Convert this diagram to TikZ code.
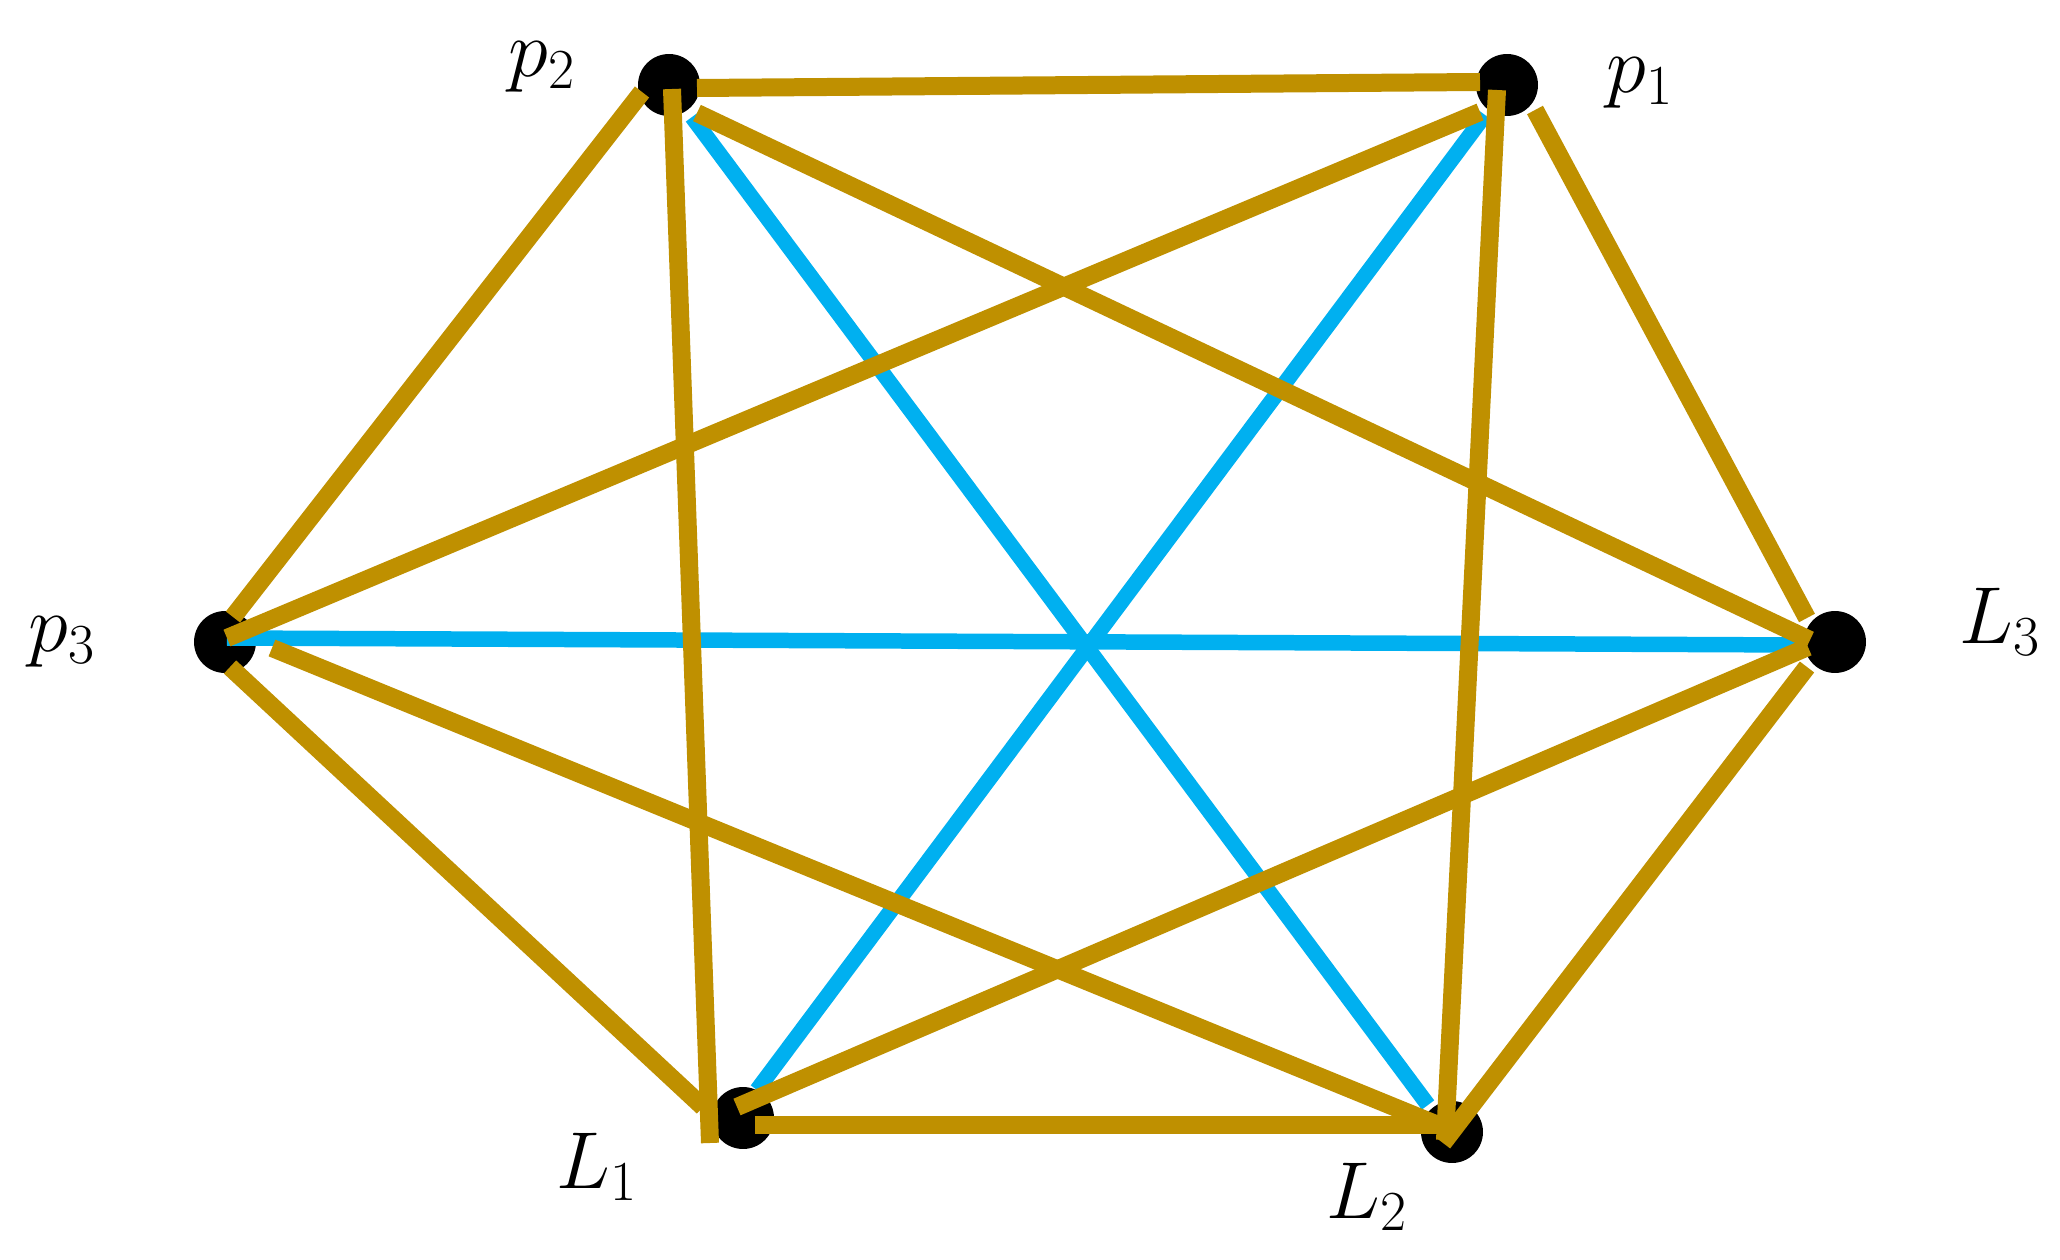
\documentclass[tikz,border=0pt]{standalone}
\usepackage{fix-cm}
\usetikzlibrary{calc}
\definecolor{goldline}{HTML}{BF9000}
\definecolor{blueline}{HTML}{00B0F0}
\tikzset{
  vertex/.style={circle,fill=black,inner sep=0pt,minimum size=1.24cm},
  goldedge/.style={draw=goldline,line width=0.36cm},
  blueedge/.style={draw=blueline,line width=0.31cm},
  lbl/.style={inner sep=0pt,font=\fontsize{46}{52}\selectfont}
}
\begin{document}
\begin{tikzpicture}[x=0.02cm,y=-0.02cm]
\useasboundingbox (0,0) rectangle (2060,1260);
% vertices
\node[vertex] (p2) at (669,85) {};
\node[vertex] (p1) at (1507,85) {};
\node[vertex] (p3) at (225,642) {};
\node[vertex] (L3) at (1835,642) {};
\node[vertex] (L1) at (743,1118) {};
\node[vertex] (L2) at (1452,1132) {};
% labels
\node[lbl] (tp2) at (542,67) {$p_2$};
\node[lbl] (tp1) at (1640,83) {$p_1$};
\node[lbl] (tp3) at (62,642) {$p_3$};
\node[lbl] (tL3) at (2000,622) {$L_3$};
\node[lbl] (tL1) at (597,1167) {$L_1$};
\node[lbl] (tL2) at (1367,1197) {$L_2$};
% blue edges (matching)
\draw[blueedge] ($(p2)+(23,32)$) -- ($(L2)+(-24,-27)$);
\draw[blueedge] ($(p1)+(-22,30)$) -- ($(L1)+(14,-28)$);
\draw[blueedge] ($(p3)+(2,-4)$) -- ($(L3)+(-35,3)$);
% gold edges
\draw[goldedge] ($(p2)+(28,3)$) -- ($(p1)+(-27,-3)$);
\draw[goldedge] ($(p2)+(-27,7)$) -- ($(p3)+(8,-25)$);
\draw[goldedge] ($(p2)+(3,4)$) -- ($(L1)+(-33,25)$);
\draw[goldedge] ($(p2)+(28,28)$) -- ($(L3)+(-25,-2)$);
\draw[goldedge] ($(p1)+(-27,27)$) -- ($(p3)+(2,-4)$);
\draw[goldedge] ($(p1)+(-10,5)$) -- ($(L2)+(-7,8)$);
\draw[goldedge] ($(p1)+(28,25)$) -- ($(L3)+(-28,-24)$);
\draw[goldedge] ($(p3)+(5,25)$) -- ($(L1)+(-40,-11)$);
\draw[goldedge] ($(p3)+(47,6)$) -- ($(L2)+(-9,-5)$);
\draw[goldedge] ($(L1)+(12,7)$) -- ($(L2)+(-9,-7)$);
\draw[goldedge] ($(L1)+(-6,-11)$) -- ($(L3)+(-27,5)$);
\draw[goldedge] ($(L2)+(-9,11)$) -- ($(L3)+(-28,25)$);
\end{tikzpicture}
\end{document}
